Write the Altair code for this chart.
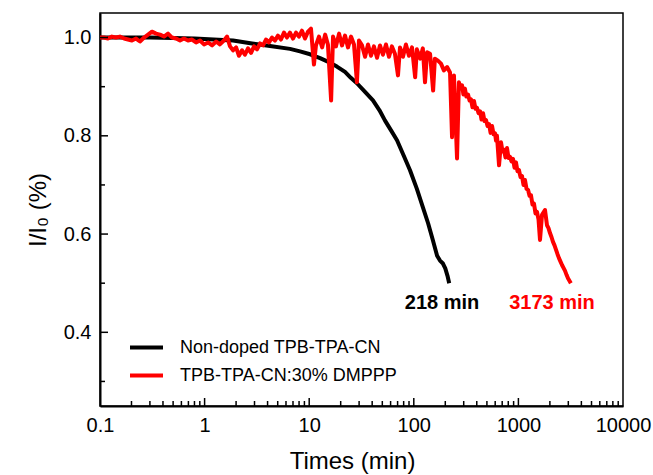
import altair as alt
import pandas as pd

# ---------------- data ----------------
series_names = ["Non-doped TPB-TPA-CN", "TPB-TPA-CN:30% DMPPP"]
series_colors = ["#000000", "#ff0000"]

black_time = [0.1, 0.3, 0.8, 1.87, 2.84, 4.22, 6.55, 8.17, 10.2, 12.7, 15.8, 18.4, 22.0,
              25.0, 28.6, 34.0, 40.7, 47.0, 53.1, 61.0, 69.1, 80.0, 92.0, 107, 122, 137,
              152, 167, 178, 190, 200, 210, 218]
black_value = [1.000, 1.000, 0.998, 0.994, 0.988, 0.983, 0.977, 0.972, 0.966, 0.958, 0.949,
               0.941, 0.930, 0.918, 0.907, 0.890, 0.872, 0.852, 0.831, 0.810, 0.791, 0.760,
               0.730, 0.692, 0.655, 0.622, 0.588, 0.556, 0.546, 0.540, 0.530, 0.515, 0.500]

# red series, early (plateau) part
red_time_early = [0.100, 0.109, 0.119, 0.130, 0.142, 0.155, 0.170, 0.185, 0.202, 0.221, 0.241,
                  0.264, 0.288, 0.314, 0.343, 0.375, 0.409, 0.447, 0.488, 0.533, 0.582, 0.635,
                  0.694, 0.758, 0.828, 0.904, 0.987, 1.08, 1.18, 1.29, 1.40, 1.53, 1.64, 1.75,
                  1.87, 2.00, 2.13, 2.28, 2.43, 2.60, 2.78, 2.97, 3.17, 3.39, 3.62, 3.86, 4.13,
                  4.41, 4.71, 5.03, 5.37, 5.74, 6.13, 6.55, 7.00, 7.48, 7.98, 8.53, 9.12, 9.74,
                  10.4, 11.1, 11.6, 12.4, 13.3, 14.2, 15.1, 16.2, 16.9, 18.0, 19.3, 20.6, 22.0,
                  23.5, 25.1, 26.8, 28.6, 29.9, 32.0, 34.2, 36.5, 39.0, 41.6, 44.5, 47.5, 50.7,
                  54.2, 57.9, 61.8, 66.0, 70.6, 73.8, 78.8, 84.1, 89.9, 96.1, 103, 107, 115,
                  122, 128, 134, 143, 153, 159, 170, 182, 194, 208, 222, 232, 242, 259, 270]
red_value_early = [1.000, 1.000, 0.998, 1.002, 1.000, 1.002, 0.998, 0.996, 0.994, 0.998, 0.992,
                   1.000, 1.006, 1.012, 1.008, 1.006, 1.002, 1.008, 1.000, 0.998, 0.994, 0.998,
                   0.994, 0.996, 0.990, 0.994, 0.986, 0.990, 0.984, 0.992, 0.986, 0.994, 1.002,
                   0.982, 0.974, 0.980, 0.963, 0.974, 0.965, 0.978, 0.969, 0.982, 0.976, 0.988,
                   0.984, 0.996, 0.990, 1.000, 0.994, 1.004, 0.996, 1.010, 1.000, 1.010, 0.998,
                   1.010, 1.002, 1.014, 0.998, 1.012, 1.018, 0.945, 0.984, 1.002, 0.980, 1.006,
                   0.986, 0.872, 1.002, 0.982, 1.008, 0.984, 1.004, 0.980, 1.002, 0.986, 0.909,
                   0.994, 0.984, 0.961, 0.986, 0.963, 0.982, 0.959, 0.984, 0.965, 0.986, 0.961,
                   0.982, 0.967, 0.923, 0.980, 0.961, 0.986, 0.963, 0.980, 0.919, 0.976, 0.957,
                   0.978, 0.909, 0.970, 0.967, 0.892, 0.957, 0.953, 0.947, 0.933, 0.940, 0.929,
                   0.797, 0.923, 0.754, 0.909]

# red series, decay part
red_time_late = [280, 289, 298, 308, 318, 330, 341, 352, 364, 376, 389, 402, 416,
                 430, 444, 459, 474, 490, 507, 524, 542, 560, 579, 598, 611, 624,
                 653, 682, 705, 728, 752, 778, 804, 831, 859, 888, 918, 948, 980, 1013,
                 1048, 1083, 1119, 1156, 1196, 1236, 1277, 1319, 1364, 1409, 1457, 1506,
                 1557, 1609,
                 1682, 1796, 1877, 1940, 2005, 2072, 2142, 2215, 2291, 2366, 2443, 2527,
                 2612, 2700, 2793, 2885, 2979, 3075, 3173]
red_value_late = [0.897, 0.903, 0.884, 0.896, 0.880, 0.884, 0.872, 0.874, 0.858, 0.871, 0.855, 0.857, 0.846,
                  0.850, 0.833, 0.846, 0.830, 0.832, 0.820, 0.824, 0.806, 0.820, 0.803, 0.805, 0.790, 0.800,
                  0.740, 0.787, 0.768, 0.772, 0.756, 0.775, 0.755, 0.757, 0.748, 0.753, 0.735, 0.746, 0.728, 0.730,
                  0.716, 0.718, 0.700, 0.710, 0.692, 0.690, 0.678, 0.679, 0.660, 0.662, 0.642, 0.645,
                  0.630, 0.588,
                  0.639, 0.649, 0.618, 0.612, 0.602, 0.594, 0.584, 0.577, 0.568, 0.559, 0.551, 0.544,
                  0.537, 0.531, 0.525, 0.517, 0.510, 0.505, 0.500]

x_label_values = [0.1, 1, 10, 100, 1000, 10000]
x_major_ticks = [1, 10, 100, 1000]
x_minor_ticks = [0.2, 0.3, 0.4, 0.5, 0.6, 0.7, 0.8, 0.9,
                 2, 3, 4, 5, 6, 7, 8, 9,
                 20, 30, 40, 50, 60, 70, 80, 90,
                 200, 300, 400, 500, 600, 700, 800, 900,
                 2000, 3000, 4000, 5000, 6000, 7000, 8000, 9000]
y_major_ticks = [0.4, 0.6, 0.8, 1.0]
y_minor_ticks = [0.3, 0.5, 0.7, 0.9]

annot_text = ["218 min", "3173 min"]
annot_time = [186, 2095]
annot_value = [0.46, 0.46]
annot_color = ["#000000", "#ff0000"]

# ---------------- chart ----------------
W, H = 523, 393
FONT = "Liberation Sans"

xscale = alt.Scale(type="log", domain=[0.1, 10000], nice=False)
yscale = alt.Scale(domain=[0.25, 1.05], nice=False, zero=False)
cscale = alt.Scale(domain=series_names, range=series_colors)

black_df = pd.DataFrame({"time": black_time, "value": black_value, "series": series_names[0]})
red_df = pd.DataFrame({"time": red_time_early + red_time_late,
                       "value": red_value_early + red_value_late,
                       "series": series_names[1]})

x_axis = alt.Axis(values=x_label_values, format="~g", title="Times (min)", labelFlush=False,
                  labelPadding=9, titleX=252, titleY=62, titleBaseline="alphabetic")
y_axis = alt.Axis(values=y_major_ticks, format=".1f", title="I/I₀ (%)", labelPadding=9,
                  titleX=-62, titleBaseline="middle")

legend = alt.Legend(title=None, orient="none", legendX=28, legendY=316, symbolType="stroke",
                    symbolStrokeWidth=4, symbolSize=1089, labelFontSize=18, labelFont=FONT,
                    labelColor="black", labelOffset=15, padding=0, rowPadding=-15, labelLimit=0)

X = alt.X("time:Q", scale=xscale, axis=x_axis)
Y = alt.Y("value:Q", scale=yscale, axis=y_axis)

black_line = alt.Chart(black_df).mark_line(strokeWidth=4, strokeJoin="round").encode(
    x=X, y=Y, color=alt.Color("series:N", scale=cscale, legend=legend),
)
red_line = alt.Chart(red_df).mark_line(strokeWidth=4, strokeJoin="round").encode(
    x=X, y=Y, color=alt.Color("series:N", scale=cscale, legend=legend),
)

xmaj = alt.Chart(pd.DataFrame({"time": x_major_ticks})).mark_rule(color="black", strokeWidth=1.5).encode(
    x=X, y=alt.value(H), y2=alt.value(H - 8))
xmin = alt.Chart(pd.DataFrame({"time": x_minor_ticks})).mark_rule(color="black", strokeWidth=1.5).encode(
    x=X, y=alt.value(H), y2=alt.value(H - 5))
ymaj = alt.Chart(pd.DataFrame({"value": y_major_ticks})).mark_rule(color="black", strokeWidth=1.5).encode(
    y=Y, x=alt.value(0), x2=alt.value(8))
ymin = alt.Chart(pd.DataFrame({"value": y_minor_ticks})).mark_rule(color="black", strokeWidth=1.5).encode(
    y=Y, x=alt.value(0), x2=alt.value(5))

texts = []
for t, xt, yv, c in zip(annot_text, annot_time, annot_value, annot_color):
    texts.append(
        alt.Chart(pd.DataFrame({"time": [xt], "value": [yv], "label": [t]})).mark_text(
            font=FONT, fontSize=20, fontWeight="bold", color=c, align="center", baseline="middle"
        ).encode(x=X, y=Y, text="label:N")
    )

chart = alt.layer(black_line, red_line, xmaj, xmin, ymaj, ymin, *texts).properties(
    width=W, height=H,
    autosize=alt.AutoSizeParams(type="none"),
    padding={"left": 100, "top": 13, "right": 30, "bottom": 69},
    background="white",
).configure_view(stroke="black", strokeWidth=1.5).configure_axis(
    domainColor="black", domainWidth=2, ticks=False, grid=False,
    labelFont=FONT, labelFontSize=20, labelColor="black",
    titleFont=FONT, titleFontSize=24, titleFontWeight="normal", titleColor="black",
)

chart.save("out.html", embed_options={"renderer": "svg", "actions": False})
